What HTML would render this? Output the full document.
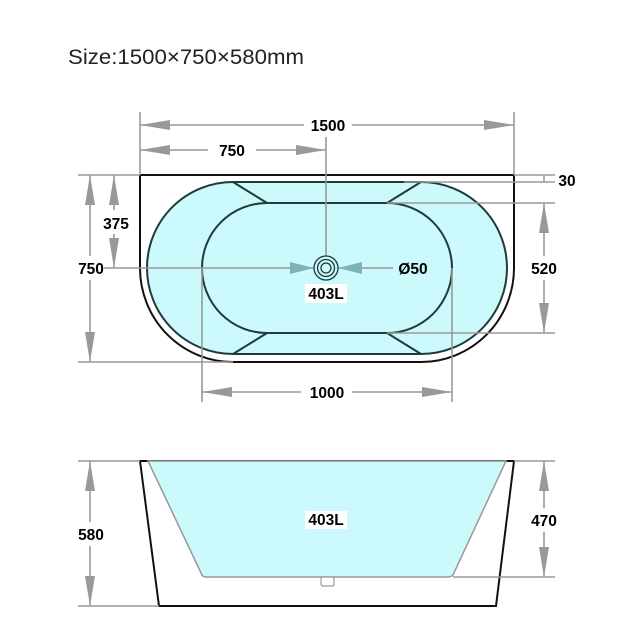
<!DOCTYPE html>
<html><head><meta charset="utf-8"><style>
html,body{margin:0;padding:0;background:#fff;}
svg{display:block;}
.l{font-family:"Liberation Sans",Arial,sans-serif;font-weight:bold;font-size:15.5px;fill:#000;}
</style></head><body>
<svg width="621" height="636" viewBox="0 0 621 636" xmlns="http://www.w3.org/2000/svg">
<text x="68" y="64" font-family="Liberation Sans, sans-serif" font-size="21" fill="#222" textLength="236" lengthAdjust="spacingAndGlyphs">Size:1500×750×580mm</text>

<path d="M140,175 H514 V268 A93,94 0 0 1 421,362 H233 A93,94 0 0 1 140,268 Z" fill="#fff" stroke="#111" stroke-width="2"/>
<path d="M233,182 H421 A86,86 0 0 1 421,354 H233 A86,86 0 0 1 233,182 Z" fill="#ccf9fb" stroke="#1e3b3b" stroke-width="2"/>
<path d="M267,203 H387 A65,65 0 0 1 387,333 H267 A65,65 0 0 1 267,203 Z" fill="#ccf9fb" stroke="#1e3b3b" stroke-width="2"/>
<g stroke="#1e3b3b" stroke-width="2">
<line x1="233" y1="182" x2="267" y2="203"/><line x1="421" y1="182" x2="387" y2="203"/>
<line x1="233" y1="354" x2="267" y2="333"/><line x1="421" y1="354" x2="387" y2="333"/>
</g>

<g stroke="#999" stroke-width="1.6" fill="none">
<line x1="140" y1="112" x2="140" y2="175"/>
<line x1="514" y1="112" x2="514" y2="175"/>
<line x1="326" y1="137" x2="326" y2="256"/>
<line x1="140" y1="125" x2="304" y2="125"/><line x1="352" y1="125" x2="514" y2="125"/>
<line x1="140" y1="150" x2="208" y2="150"/><line x1="256" y1="150" x2="326" y2="150"/>
<line x1="78" y1="175" x2="140" y2="175"/>
<line x1="78" y1="362" x2="233" y2="362"/>
<line x1="90" y1="175" x2="90" y2="256"/><line x1="90" y1="280" x2="90" y2="362"/>
<line x1="114" y1="175" x2="114" y2="210"/><line x1="114" y1="234" x2="114" y2="268"/>
<line x1="104" y1="268" x2="314" y2="268"/><line x1="338" y1="268" x2="393" y2="268"/>
<line x1="404" y1="182" x2="555" y2="182"/>
<line x1="514" y1="175" x2="555" y2="175"/>
<line x1="544" y1="175" x2="544" y2="182"/>
<line x1="387" y1="203" x2="555" y2="203"/>
<line x1="387" y1="333" x2="555" y2="333"/>
<line x1="544" y1="203" x2="544" y2="256"/><line x1="544" y1="280" x2="544" y2="333"/>
<line x1="202" y1="268" x2="202" y2="402"/>
<line x1="452" y1="268" x2="452" y2="402"/>
<line x1="202" y1="392" x2="301" y2="392"/><line x1="352" y1="392" x2="452" y2="392"/>
</g>
<g fill="#999">
<polygon points="140,125 170,120 170,130"/><polygon points="514,125 484,120 484,130"/>
<polygon points="140,150 170,145 170,155"/><polygon points="326,150 296,145 296,155"/>
<polygon points="90,175 85,205 95,205"/><polygon points="90,362 85,332 95,332"/>
<polygon points="114,175 109,205 119,205"/><polygon points="114,268 109,238 119,238"/>
<polygon points="544,203 539,233 549,233"/><polygon points="544,333 539,303 549,303"/>
<polygon points="202,392 232,387 232,397"/><polygon points="452,392 422,387 422,397"/>
</g>
<g fill="#7fb3b3">
<polygon points="314,268 290,262 290,274"/><polygon points="338,268 362,262 362,274"/>
</g>
<g fill="none" stroke="#1e3b3b" stroke-width="1.3">
<circle cx="326" cy="268" r="12"/><circle cx="326" cy="268" r="8.5"/><circle cx="326" cy="268" r="5"/>
</g>

<rect x="305" y="284" width="42" height="19" fill="#fff"/>
<text class="l" x="326" y="299" text-anchor="middle">403L</text>
<text class="l" x="328" y="131" text-anchor="middle">1500</text>
<text class="l" x="232" y="156" text-anchor="middle">750</text>
<text class="l" x="116" y="229" text-anchor="middle">375</text>
<text class="l" x="91" y="274" text-anchor="middle">750</text>
<text class="l" x="413" y="274" text-anchor="middle" fill="#1e3b3b">Ø50</text>
<text class="l" x="567" y="186" text-anchor="middle">30</text>
<text class="l" x="544" y="274" text-anchor="middle">520</text>
<text class="l" x="327" y="398" text-anchor="middle">1000</text>

<path d="M140,461 H514 L496,606 H159 Z" fill="#fff" stroke="#111" stroke-width="2"/>
<path d="M148,461 H506 L453,575 Q451,577 448,577 H206 Q203,577 202,575 Z" fill="#ccf9fb" stroke="#999" stroke-width="1.5"/>
<rect x="321" y="577" width="13" height="9" rx="2" fill="#fff" stroke="#999" stroke-width="1.2"/>
<g stroke="#999" stroke-width="1.6">
<line x1="78" y1="461" x2="140" y2="461"/><line x1="78" y1="606" x2="159" y2="606"/>
<line x1="514" y1="461" x2="555" y2="461"/><line x1="453" y1="577" x2="555" y2="577"/>
<line x1="90" y1="461" x2="90" y2="522"/><line x1="90" y1="546" x2="90" y2="606"/>
<line x1="544" y1="461" x2="544" y2="508"/><line x1="544" y1="532" x2="544" y2="577"/>
</g>
<g fill="#999">
<polygon points="90,461 85,491 95,491"/><polygon points="90,606 85,576 95,576"/>
<polygon points="544,461 539,491 549,491"/><polygon points="544,577 539,547 549,547"/>
</g>
<rect x="305" y="511" width="42" height="18" fill="#fff"/>
<text class="l" x="326" y="525" text-anchor="middle">403L</text>
<text class="l" x="91" y="540" text-anchor="middle">580</text>
<text class="l" x="544" y="526" text-anchor="middle">470</text>
</svg>
</body></html>
